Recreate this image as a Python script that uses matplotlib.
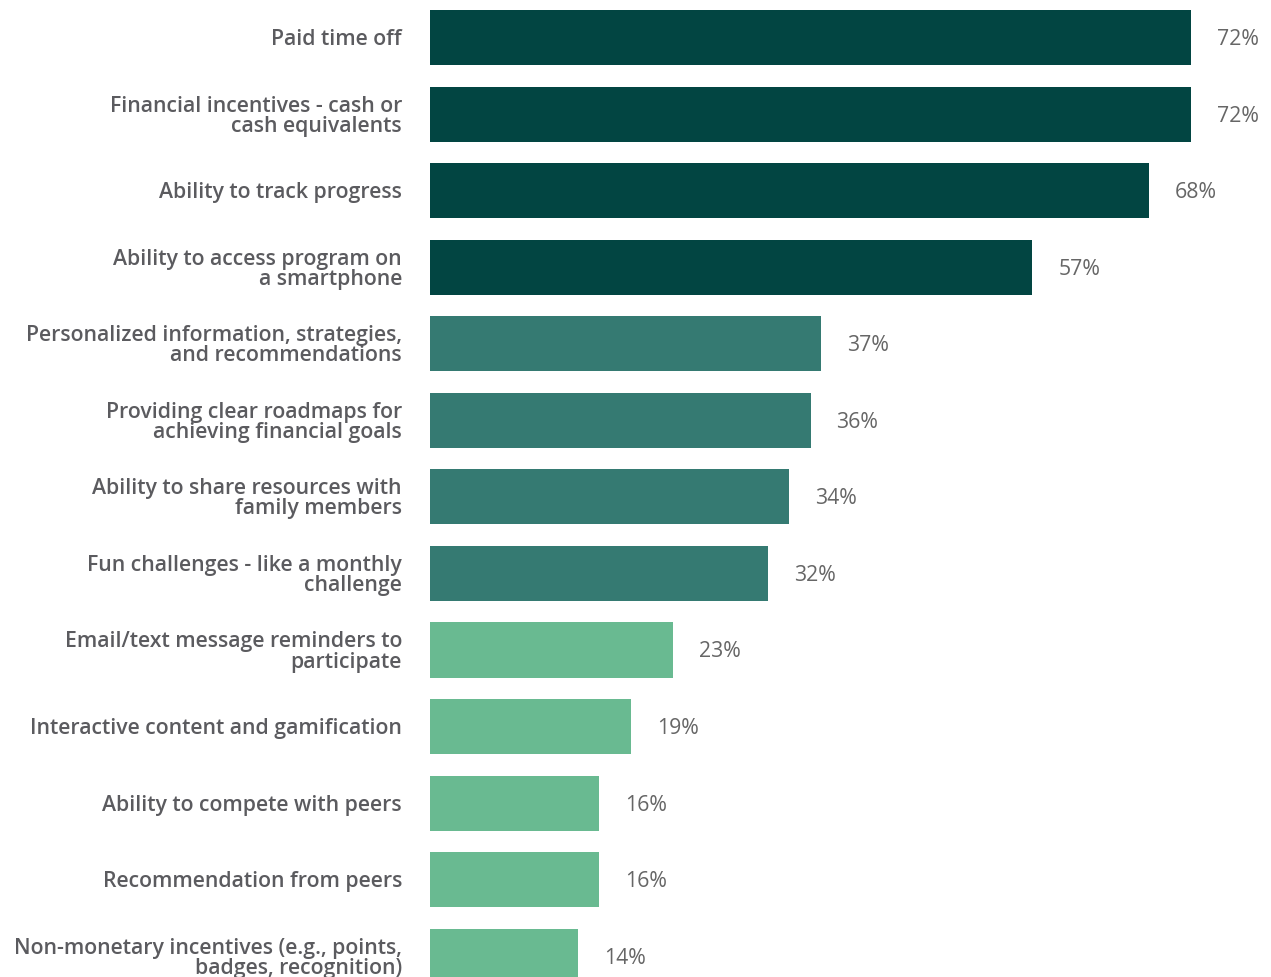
import matplotlib.pyplot as plt

plt.rcParams["font.family"] = ["Open Sans", "DejaVu Sans"]

labels = [
    "Paid time off",
    "Financial incentives - cash or\ncash equivalents",
    "Ability to track progress",
    "Ability to access program on\na smartphone",
    "Personalized information, strategies,\nand recommendations",
    "Providing clear roadmaps for\nachieving financial goals",
    "Ability to share resources with\nfamily members",
    "Fun challenges - like a monthly\nchallenge",
    "Email/text message reminders to\nparticipate",
    "Interactive content and gamification",
    "Ability to compete with peers",
    "Recommendation from peers",
    "Non-monetary incentives (e.g., points,\nbadges, recognition)",
]
values = [72, 72, 68, 57, 37, 36, 34, 32, 23, 19, 16, 16, 14]
tiers = [0, 0, 0, 0, 1, 1, 1, 1, 2, 2, 2, 2, 2]

tier_colors = ["#024542", "#357A72", "#69BA91"]

W, H = 1271, 978
fig = plt.figure(figsize=(W / 100, H / 100), dpi=100)
ax = fig.add_axes([430 / W, 0, (W - 430) / W, 1])

pos = list(range(len(values)))
ax.barh(pos, values, height=0.72, color=[tier_colors[t] for t in tiers])

# last bar runs off the bottom edge
ax.set_xlim(0, (W - 430) / 10.57)
ax.set_ylim(12.272, -0.504)
ax.axis("off")

for y, v in zip(pos, values):
    ax.annotate(f"{v}%", xy=(v, y), xytext=(26, -1), textcoords="offset pixels",
                va="center", ha="left", fontsize=15.3, color="#666666")

for y, lab in zip(pos, labels):
    ax.annotate(lab, xy=(0, y), xycoords="data", xytext=(-28, -1),
                textcoords="offset pixels", ha="right", va="center",
                multialignment="right", fontsize=15.3, fontweight="semibold",
                color="#5b5b5f", linespacing=0.95, annotation_clip=False)

fig.savefig("out.png", dpi=100)
